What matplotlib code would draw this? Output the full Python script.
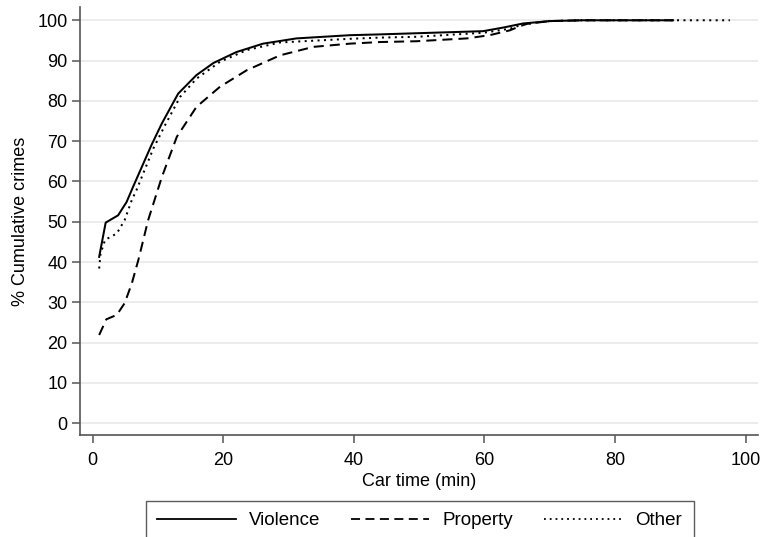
import matplotlib
matplotlib.use("Agg")
import matplotlib.pyplot as plt
from matplotlib.lines import Line2D

plt.rcParams['font.family'] = ['Liberation Sans', 'DejaVu Sans']

# Data
violence_x = [1.0, 2.0, 3.9, 5.2, 6.2, 9.0, 10.6, 13.1, 15.9, 18.5, 22.0, 26.1, 31.2, 39.4, 44.0, 59.8, 62.9, 65.9, 70.0, 75.0, 88.9]
violence_y = [41.3, 49.8, 51.6, 54.9, 58.7, 69.0, 74.4, 81.8, 86.4, 89.4, 92.1, 94.2, 95.5, 96.3, 96.5, 97.3, 98.2, 99.2, 99.8, 100.0, 100.0]

property_x = [1.0, 2.1, 3.7, 4.9, 6.0, 7.0, 8.5, 10.6, 12.9, 15.9, 19.5, 23.6, 28.7, 33.8, 39.4, 44.0, 49.6, 57.3, 60.8, 63.9, 65.4, 66.5, 70.0, 75.0, 88.9]
property_y = [21.9, 25.8, 26.9, 29.8, 34.7, 40.5, 50.4, 61.1, 71.1, 78.5, 83.5, 87.6, 91.3, 93.4, 94.2, 94.6, 94.8, 95.5, 96.3, 97.5, 98.5, 99.1, 99.8, 100.0, 100.0]

other_x = [1.0, 1.2, 1.9, 3.7, 4.9, 6.0, 6.7, 9.3, 11.1, 13.4, 15.9, 19.5, 23.6, 28.7, 39.4, 44.0, 49.6, 59.8, 63.9, 65.9, 70.0, 75.0, 97.6]
other_y = [38.4, 42.0, 45.5, 47.1, 50.4, 55.4, 57.8, 68.2, 74.0, 81.0, 85.5, 89.7, 92.6, 94.5, 95.4, 95.7, 95.9, 96.9, 97.9, 99.0, 99.8, 100.0, 100.0]

labels = ["Violence", "Property", "Other"]
x_ticks = [0, 20, 40, 60, 80, 100]
y_ticks = list(range(0, 101, 10))

fig = plt.figure(figsize=(7.63, 5.37), dpi=100)
ax = fig.add_axes([0.1048, 0.19, 0.8886, 0.797])

ax.set_axisbelow(True)
for yt in y_ticks:
    ax.axhline(yt, color='#e9e9e9', lw=1.2, zorder=0)

lw = 1.45
dash = (0, (5, 3))
dot = (0, (1, 2.2))
ax.plot(violence_x, violence_y, color='black', lw=lw, ls='-', label=labels[0])
ax.plot(property_x, property_y, color='black', lw=lw, ls=dash, label=labels[1])
ax.plot(other_x, other_y, color='black', lw=lw, ls=dot, label=labels[2])

ax.set_xlim(-1.94, 101.9)
ax.set_ylim(-2.9, 103.3)
ax.set_xticks(x_ticks)
ax.set_yticks(y_ticks)
ax.tick_params(axis='both', direction='out', length=6, width=1.1, color='#555555', labelsize=13)
ax.tick_params(axis='x', pad=6)
ax.tick_params(axis='y', pad=3)
for s in ['top', 'right']:
    ax.spines[s].set_visible(False)
for s in ['left', 'bottom']:
    ax.spines[s].set_color('#555555')
    ax.spines[s].set_linewidth(1.2)

ax.set_xlabel("Car time (min)", fontsize=13, labelpad=3)
ax.set_ylabel("% Cumulative crimes", fontsize=13, labelpad=6)

handles = [
    Line2D([], [], color='black', lw=1.3, ls='-'),
    Line2D([], [], color='black', lw=1.3, ls=dash),
    Line2D([], [], color='black', lw=1.3, ls=dot),
]
leg = fig.legend(handles, labels, loc='upper left', bbox_to_anchor=(0.191, 0.067, 0.718, 0.0),
                 mode='expand', ncol=3, frameon=True, fancybox=False, fontsize=13.5,
                 handlelength=4.2, handletextpad=0.7, borderpad=0.6, columnspacing=1.5,
                 borderaxespad=0)
leg.get_frame().set_edgecolor('#333333')
leg.get_frame().set_linewidth(1.0)

fig.savefig("out.png", dpi=100, facecolor='white')
